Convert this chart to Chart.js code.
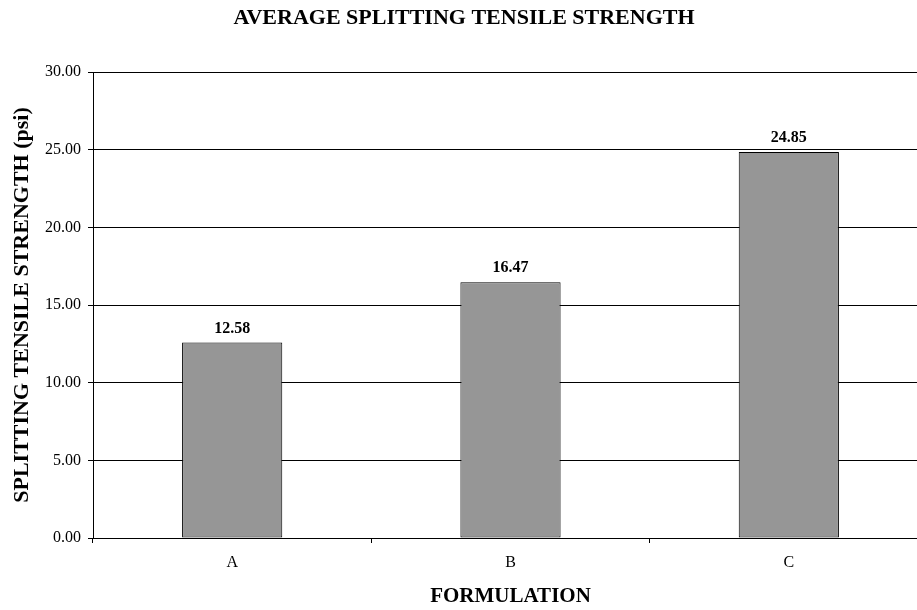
<!DOCTYPE html>
<html>
<head>
<meta charset="utf-8">
<script src="https://cdn.jsdelivr.net/npm/chart.js@4/dist/chart.umd.min.js"></script>
<style>
  html, body { margin: 0; padding: 0; overflow: hidden; background: #fff; }
  #wrap { position: relative; width: 962px; height: 610px; }
</style>
</head>
<body>
<div id="wrap"><canvas id="chart"></canvas></div>
<script>
  var categories = ['A', 'B', 'C'];
  var strengths = [12.58, 16.47, 24.85];
  var yTicks = [0, 5, 10, 15, 20, 25, 30];

  var FONT = '"Liberation Serif", "Times New Roman", serif';

  // value labels above each bar
  var barLabels = {
    id: 'barLabels',
    afterDatasetsDraw: function (chart) {
      var ctx = chart.ctx;
      var meta = chart.getDatasetMeta(0);
      ctx.save();
      ctx.font = 'bold 16px ' + FONT;
      ctx.fillStyle = '#000';
      ctx.textAlign = 'center';
      ctx.textBaseline = 'alphabetic';
      meta.data.forEach(function (bar, i) {
        ctx.fillText(strengths[i].toFixed(2), bar.x, bar.y - 10);
      });
      ctx.restore();
    }
  };

  new Chart(document.getElementById('chart'), {
    type: 'bar',
    data: {
      labels: categories,
      datasets: [{
        data: strengths,
        backgroundColor: '#969696',
        borderColor: '#000',
        borderWidth: 1,
        borderSkipped: false,
        barPercentage: 0.36,
        categoryPercentage: 1.0
      }]
    },
    options: {
      responsive: true,
      maintainAspectRatio: false,
      animation: false,
      layout: { padding: { left: 0, right: 34, top: 0, bottom: 0 } },
      plugins: {
        legend: { display: false },
        tooltip: { enabled: false },
        title: {
          display: true,
          text: 'AVERAGE SPLITTING TENSILE STRENGTH',
          color: '#000',
          font: { family: FONT, size: 22, weight: 'bold' },
          padding: { top: 5, bottom: 40.6 }
        }
      },
      scales: {
        x: {
          offset: true,
          border: { color: '#000', width: 1 },
          grid: { offset: true, drawOnChartArea: false, drawTicks: true, tickLength: 5, color: '#000' },
          ticks: { color: '#000', font: { family: FONT, size: 16 }, padding: 10 },
          title: {
            display: true,
            text: 'FORMULATION',
            color: '#000',
            font: { family: FONT, size: 21, weight: 'bold' },
            padding: { top: 0, bottom: 0.4 }
          },
          afterFit: function (scale) { scale.height = 72; }
        },
        y: {
          min: 0,
          max: 30,
          afterBuildTicks: function (scale) {
            scale.ticks = yTicks.map(function (v) { return { value: v }; });
          },
          border: { color: '#000', width: 1 },
          grid: { color: '#000', lineWidth: 1, drawTicks: true, tickLength: 5 },
          ticks: {
            color: '#000',
            font: { family: FONT, size: 16 },
            padding: 7,
            callback: function (v) { return Number(v).toFixed(2); }
          },
          title: {
            display: true,
            text: 'SPLITTING TENSILE STRENGTH (psi)',
            color: '#000',
            font: { family: FONT, size: 22, weight: 'bold' },
            padding: { top: 9, bottom: 0 }
          },
          afterFit: function (scale) { scale.width = 93; }
        }
      }
    },
    plugins: [barLabels]
  });
</script>
</body>
</html>
